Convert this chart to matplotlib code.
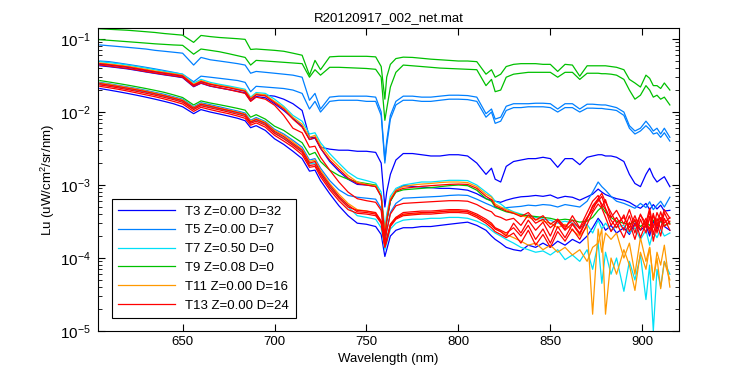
# Lu spectra from R20120917_002_net.mat, log scale
import matplotlib
matplotlib.use('Agg')
import matplotlib.pyplot as plt
import numpy as np

plt.rcParams['font.family'] = ['Liberation Sans', 'DejaVu Sans']
plt.rcParams['mathtext.fontset'] = 'custom'
plt.rcParams['mathtext.rm'] = 'Liberation Sans'
plt.rcParams['mathtext.it'] = 'Liberation Sans'

# wavelength grid (nm), shared by all spectra
wl = [605, 610, 615, 620, 625, 630, 635, 640, 645, 650,
      656, 660, 665, 670, 675, 680, 684, 687, 690, 695,
      700, 705, 710, 715, 719, 722, 725, 730, 735, 740,
      745, 750, 755, 758, 760, 761, 763, 766, 770, 775,
      780, 785, 790, 795, 800, 805, 810, 815, 818, 820,
      823, 826, 830, 834, 838, 842, 846, 850, 854, 858,
      862, 866, 870, 873, 876, 878, 880, 883, 886, 890,
      893, 896, 899, 902, 904, 906, 908, 910, 912, 915]

# Lu values in units of 1e-4 uW/cm^2/sr/nm
# T3 (blue)
t3_a = [450, 440, 425, 410, 390, 370, 355, 340, 325, 310,
        230, 260, 240, 230, 220, 205, 195, 150, 175, 170,
        165, 150, 130, 105, 45, 45, 33, 31, 30, 30,
        29, 29, 28, 20, 5, 8, 14, 22, 27, 27,
        26, 25, 25, 26, 26, 25, 20, 14, 17, 12,
        11, 18, 21, 22, 23, 23, 24, 23, 17.5, 23,
        23, 19, 24, 25, 26, 26, 25, 25, 24, 21,
        14, 10.5, 9.5, 14, 17, 13, 11, 12, 13, 9.5]
t3_b = [430, 418, 404, 390, 372, 354, 338, 323, 310, 296,
        222, 248, 226, 214, 203, 192, 183, 142, 163, 157,
        130, 105, 82, 64, 42, 44, 32, 21, 15.5, 12,
        10.2, 10, 9.6, 7, 2.0, 3.2, 6, 8.5, 9.8, 9.6,
        9.4, 9.2, 9.0, 9.0, 8.8, 8.5, 7.6, 6.5, 6.2, 6.0,
        5.8, 6.2, 6.6, 6.9, 7.0, 7.2, 7.0, 7.3, 6.6, 7.0,
        6.8, 6.2, 6.9, 7.5, 8.8, 8.0, 7.4, 6.9, 6.5, 6.2,
        5.8, 5.2, 4.8, 5.6, 4.6, 5.4, 4.7, 5.3, 4.4, 4.5]
t3_c = [210, 200, 190, 180, 170, 160, 150, 140, 130, 118,
        95, 108, 100, 94, 88, 82, 76, 61, 65, 56,
        43, 36, 29, 23, 15.5, 16, 11.5, 7.6, 5.2, 3.8,
        3.0, 2.9, 2.7, 2.1, 1.05, 1.3, 2.0, 2.4, 2.6, 2.6,
        2.7, 2.7, 2.8, 2.9, 3.0, 3.1, 2.8, 2.4, 2.0, 1.8,
        1.6, 1.4, 1.3, 1.25, 1.5, 1.4, 1.6, 1.4, 1.7, 1.5,
        1.8, 1.6, 2.0, 2.6, 3.5, 3.0, 2.4, 2.8, 2.2, 2.6,
        2.1, 3.0, 2.4, 2.8, 2.0, 3.2, 2.5, 3.3, 2.7, 2.4]
# T5 (light blue)
t5_a = [830, 810, 790, 770, 750, 730, 700, 680, 660, 640,
        440, 560, 520, 500, 480, 460, 440, 340, 360, 350,
        340, 330, 320, 300, 145, 180, 110, 160, 165, 165,
        165, 165, 160, 100, 22, 40, 90, 140, 165, 165,
        160, 160, 165, 170, 170, 168, 160, 95, 110, 80,
        85, 120, 130, 130, 130, 132, 132, 130, 110, 130,
        130, 110, 128, 128, 126, 125, 125, 120, 115, 100,
        65, 55, 60, 75, 65, 55, 60, 50, 60, 45]
t5_b = [500, 490, 470, 450, 430, 410, 390, 370, 350, 330,
        260, 310, 300, 290, 280, 270, 255, 190, 225, 220,
        215, 210, 200, 180, 110, 140, 100, 140, 145, 145,
        145, 140, 140, 90, 20, 35, 80, 125, 145, 145,
        140, 140, 145, 150, 150, 148, 140, 85, 100, 70,
        75, 105, 115, 115, 118, 118, 118, 115, 100, 115,
        115, 100, 113, 113, 112, 112, 110, 108, 105, 90,
        60, 50, 55, 65, 58, 50, 52, 45, 52, 40]
t5_c = [255, 244, 232, 221, 210, 198, 186, 175, 162, 150,
        118, 134, 126, 118, 110, 103, 97, 77, 84, 74,
        58, 50, 41, 33, 22, 23, 17, 11.5, 8.6, 7.2,
        6.8, 6.6, 6.4, 4.8, 1.6, 2.3, 4.2, 5.6, 6.6, 6.7,
        6.8, 6.9, 7.0, 7.2, 7.3, 7.2, 6.4, 5.6, 5.2, 4.9,
        4.7, 4.9, 5.0, 5.1, 5.3, 5.2, 5.4, 5.3, 5.0, 5.4,
        5.2, 5.0, 6.0, 8.0, 11, 9.5, 8.5, 7.0, 6.0, 5.6,
        5.2, 4.8, 5.6, 4.9, 5.9, 4.6, 5.3, 6.0, 5.0, 6.8]
# T7 (cyan)
t7_a = [490, 475, 460, 440, 420, 400, 380, 360, 345, 330,
        250, 280, 255, 240, 228, 215, 205, 160, 185, 180,
        150, 120, 90, 75, 50, 52, 38, 27, 20, 15,
        12.4, 11.5, 10.6, 8, 2.5, 4, 7, 9, 10, 10.5,
        11, 11, 11.3, 11.6, 11.6, 11.5, 10, 8, 7, 6,
        5.5, 4.8, 4.3, 4.0, 3.8, 3.6, 3.4, 3.3, 3.0, 3.2,
        3.0, 2.6, 2.9, 2.2, 3.3, 2.5, 3.0, 2.4, 2.7, 2.8,
        2.2, 2.6, 1.8, 2.4, 1.5, 2.3, 1.9, 2.5, 2.0, 2.2]
t7_b = [240, 230, 219, 208, 197, 186, 175, 164, 152, 140,
        110, 125, 117, 110, 103, 96, 90, 72, 78, 68,
        52, 44, 36, 29, 19.5, 20, 14.5, 9.5, 6.8, 5,
        3.8, 3.6, 3.4, 2.6, 1.3, 1.6, 2.5, 3.0, 3.3, 3.4,
        3.4, 3.5, 3.5, 3.6, 3.6, 3.5, 3.2, 2.8, 2.4, 2.2,
        2.0, 1.8, 1.6, 1.4, 1.3, 1.2, 1.25, 1.1, 1.3, 0.95,
        1.1, 0.9, 1.3, 0.7, 1.6, 0.45, 1.2, 0.6, 1.0, 0.35,
        0.9, 0.5, 1.1, 0.27, 0.8, 0.1, 0.7, 0.4, 0.9, 0.6]
# T9 (green)
t9_a = [1380, 1360, 1340, 1320, 1290, 1260, 1230, 1190, 1160, 1130,
        900, 1120, 1080, 1050, 1030, 1010, 990, 720, 730, 715,
        700, 680, 640, 600, 320, 510, 380, 570, 580, 580,
        580, 580, 570, 420, 150, 300, 450, 540, 565, 560,
        545, 530, 520, 510, 500, 500, 490, 330, 380, 300,
        330, 420, 450, 460, 460, 460, 450, 450, 360, 450,
        440, 310, 430, 430, 430, 430, 430, 420, 410, 380,
        280, 250, 220, 320, 290, 230, 230, 210, 250, 200]
t9_b = [980, 960, 940, 920, 900, 880, 860, 845, 830, 820,
        620, 730, 700, 670, 630, 590, 560, 440, 510, 500,
        490, 480, 470, 460, 300, 380, 320, 410, 410, 405,
        400, 395, 385, 300, 77, 110, 220, 350, 440, 430,
        420, 410, 400, 395, 390, 385, 380, 230, 280, 190,
        200, 300, 330, 340, 350, 350, 350, 350, 300, 350,
        350, 280, 340, 340, 340, 335, 335, 330, 320, 280,
        200, 150, 170, 230, 200, 160, 170, 150, 160, 125]
t9_c = [270, 258, 246, 234, 222, 210, 198, 186, 172, 158,
        125, 142, 133, 126, 119, 112, 106, 85, 92, 80,
        64, 56, 46, 38, 26, 28, 21, 16, 13.5, 12,
        11, 10.5, 10, 7, 2, 3.2, 6, 8, 8.6, 8.8,
        9, 9.2, 9.5, 9.8, 10, 9.8, 8.5, 6.5, 6, 5,
        4.6, 4.3, 4.1, 3.9, 3.8, 3.7, 3.6, 3.5, 3.3, 3.4,
        3.3, 3.1, 3.2, 3.6, 4.5, 5.0, 4.2, 3.6, 3.2, 3.0,
        2.9, 3.2, 2.7, 3.1, 2.8, 3.3, 2.9, 3.2, 2.8, 3.0]
# T11 (orange)
t11_a = [470, 455, 440, 425, 405, 385, 365, 350, 335, 320,
         240, 270, 245, 232, 220, 208, 198, 155, 178, 172,
         140, 115, 85, 68, 45, 48, 35, 24, 18, 13.5,
         11, 10.2, 9.8, 7, 2.2, 3.5, 6.5, 8.5, 9.5, 10,
         10.3, 10.5, 10.8, 11, 11, 10.8, 9.5, 7.5, 6.8, 5.5,
         5, 4.6, 4.2, 3.8, 3.6, 3.4, 3.2, 3.0, 2.6, 2.9,
         2.4, 2.0, 2.7, 0.17, 2.5, 1.2, 2.2, 1.8, 2.2, 1.0,
         1.6, 0.6, 1.9, 0.9, 1.4, 0.5, 1.2, 0.8, 1.5, 0.4]
t11_b = [250, 240, 228, 217, 206, 194, 182, 170, 158, 146,
         115, 130, 122, 114, 107, 100, 94, 75, 81, 72,
         56, 48, 39, 31, 21, 22, 16, 10.5, 7.5, 5.6,
         4.6, 4.4, 4.1, 3.2, 1.4, 1.8, 2.9, 3.6, 3.9, 4.0,
         4.1, 4.2, 4.3, 4.4, 4.4, 4.3, 3.8, 3.2, 2.9, 2.5,
         2.3, 2.1, 1.9, 1.7, 1.5, 1.6, 1.3, 1.5, 1.2, 1.4,
         1.1, 1.3, 0.9, 1.4, 1.6, 2.5, 0.17, 1.0, 0.6, 1.3,
         0.8, 0.36, 1.2, 0.7, 1.4, 0.5, 1.0, 0.38, 0.9, 0.5]
# T13 (red)
t13_a = [460, 445, 430, 415, 395, 375, 357, 342, 328, 313,
         235, 262, 240, 226, 215, 202, 192, 150, 172, 166,
         135, 110, 80, 62, 42, 45, 32, 22, 16.5, 12.5,
         10.5, 10, 9.5, 7, 2.0, 3.3, 6.2, 8.2, 9, 9.3,
         9.6, 9.8, 10, 10.2, 10.3, 10.2, 9, 7, 6.3, 5.2,
         4.8, 4.4, 4.1, 3.7, 4.2, 3.3, 3.8, 2.9, 3.4, 2.7,
         3.3, 2.5, 3.6, 4.5, 6.5, 7.7, 5.8, 4.2, 3.0, 3.6,
         2.6, 3.8, 2.4, 3.5, 2.2, 3.9, 2.8, 4.3, 3.0, 3.6]
t13_b = [440, 425, 410, 395, 377, 358, 342, 327, 313, 300,
         225, 250, 228, 215, 203, 190, 180, 140, 160, 150,
         124, 90, 60, 52, 33, 34, 24, 16, 11, 8,
         6.5, 6.1, 5.8, 4.5, 1.6, 2.4, 4, 5.2, 5.6, 5.7,
         5.8, 5.9, 6.0, 6.1, 6.1, 6.0, 5.4, 4.6, 4.3, 3.8,
         3.6, 3.3, 3.5, 2.8, 3.9, 3.0, 3.4, 2.6, 3.2, 2.4,
         3.0, 2.2, 3.5, 5.0, 6.0, 7.0, 4.8, 3.3, 2.6, 3.9,
         2.3, 3.4, 1.9, 3.0, 2.5, 4.1, 2.2, 3.6, 2.7, 3.2]
t13_c = [235, 225, 214, 203, 192, 181, 170, 159, 148, 136,
         108, 122, 114, 107, 100, 93, 87, 70, 75, 66,
         51, 43, 35, 28, 18.5, 19, 14, 9.2, 6.6, 5,
         4.5, 4.4, 4.2, 3.2, 1.5, 1.8, 2.9, 3.6, 4.2, 4.3,
         4.4, 4.4, 4.5, 4.6, 4.6, 4.5, 4.0, 3.4, 3.0, 2.6,
         2.4, 2.2, 2.6, 2.0, 2.8, 1.8, 2.5, 1.6, 2.7, 1.9,
         2.9, 2.1, 3.4, 5.2, 6.5, 5.5, 4.6, 2.8, 3.6, 2.4,
         3.8, 2.2, 4.0, 2.6, 4.4, 2.1, 3.5, 2.5, 4.2, 2.9]
t13_d = [225, 215, 205, 194, 183, 172, 162, 151, 140, 129,
         102, 116, 108, 101, 95, 88, 82, 66, 71, 62,
         48, 40, 33, 26, 17.5, 18, 13, 8.6, 6.1, 4.6,
         4.1, 4.0, 3.8, 3.0, 1.4, 1.7, 2.7, 3.4, 3.8, 3.9,
         4.0, 4.0, 4.1, 4.2, 4.2, 4.1, 3.6, 3.0, 2.6, 2.3,
         2.1, 1.9, 2.2, 1.6, 2.4, 1.5, 2.1, 1.4, 2.3, 1.7,
         2.5, 1.8, 2.9, 4.2, 5.5, 4.8, 3.6, 2.3, 3.0, 1.9,
         3.1, 1.8, 3.4, 2.2, 3.7, 1.7, 3.0, 2.0, 3.5, 2.4]
t13_e = [245, 234, 223, 212, 201, 190, 178, 167, 155, 143,
         113, 128, 120, 112, 105, 98, 92, 73, 79, 70,
         54, 46, 37, 30, 20, 21, 15, 10, 7, 5.3,
         4.3, 4.2, 4.0, 3.1, 1.45, 1.75, 2.8, 3.5, 4.0, 4.1,
         4.2, 4.2, 4.3, 4.4, 4.4, 4.3, 3.8, 3.2, 2.8, 2.5,
         2.3, 2.0, 3.0, 2.2, 3.3, 2.4, 3.1, 2.0, 3.4, 2.5,
         3.8, 2.6, 4.2, 6.0, 7.2, 5.0, 6.3, 3.6, 4.5, 2.9,
         4.6, 2.7, 3.9, 3.0, 4.8, 2.6, 4.2, 3.2, 4.6, 3.5]

labels = ['T3 Z=0.00 D=32', 'T5 Z=0.00 D=7', 'T7 Z=0.50 D=0',
          'T9 Z=0.08 D=0', 'T11 Z=0.00 D=16', 'T13 Z=0.00 D=24']
colors = ['#0000ff', '#0080ff', '#00e0f8', '#00c000', '#ff9900', '#ff0000']
groups = [[t3_a, t3_b, t3_c], [t5_a, t5_b, t5_c], [t7_a, t7_b],
          [t9_a, t9_b, t9_c], [t11_a, t11_b], [t13_a, t13_b, t13_c, t13_d, t13_e]]

fig = plt.figure(figsize=(7.5, 3.75), dpi=100)
ax = fig.add_axes([0.1307, 0.1173, 0.7747, 0.808])

x = np.array(wl)
for lab, col, g in zip(labels, colors, groups):
    for i, s in enumerate(g):
        ax.plot(x, np.array(s) * 1e-4, color=col, lw=0.9,
                label=lab if i == 0 else None)

ax.set_yscale('log')
ax.set_xlim(604, 920)
ax.set_ylim(1e-5, 0.1416)
ax.set_xticks([650, 700, 750, 800, 850, 900])
ax.tick_params(which='both', direction='in', top=True, right=True, labelsize=9.5)
ax.tick_params(axis='y', which='major', labelsize=11, pad=5)
ax.tick_params(which='major', length=5)
ax.tick_params(which='minor', length=3)
for sp in ax.spines.values():
    sp.set_linewidth(0.8)

ax.set_title('R20120917_002_net.mat', fontsize=9.5, pad=5)
ax.set_xlabel('Wavelength (nm)', fontsize=9.5)
ax.set_ylabel('Lu (uW/cm$^2$/sr/nm)', fontsize=9.5, labelpad=2)

leg = ax.legend(loc='lower left', bbox_to_anchor=(0.012, 0.02), fontsize=9.5,
                handlelength=4.3, fancybox=False, edgecolor='black',
                framealpha=1, borderpad=0.5, labelspacing=0.5)
leg.get_frame().set_linewidth(0.8)

fig.savefig('out.png', dpi=100)
